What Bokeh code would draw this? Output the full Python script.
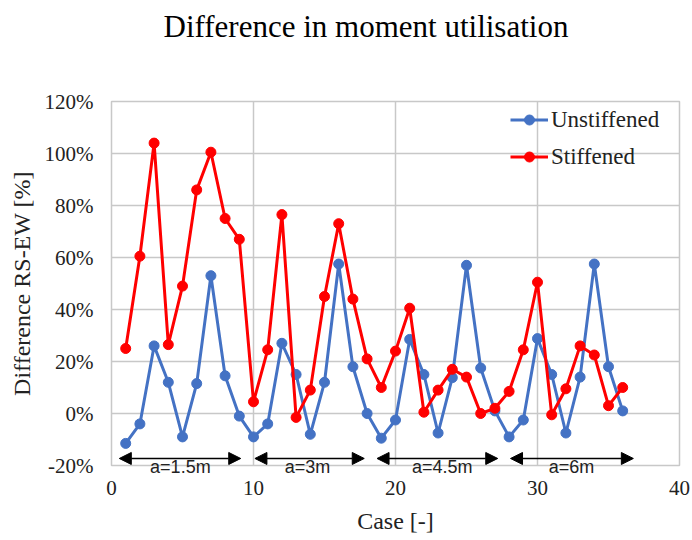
from bokeh.plotting import figure
from bokeh.models import (ColumnDataSource, FixedTicker, PrintfTickFormatter, Legend, LegendItem,
                          Arrow, NormalHead, LinearAxis, Range1d, Title)
from bokeh.embed import file_html
from bokeh.resources import INLINE

cases = list(range(1, 37))
unstiffened = [-11.5, -4, 26, 12, -9, 11.5, 53, 14.5, -1,
               -9, -4, 27, 15, -8, 12, 57.5, 18, 0,
               -9.5, -2.5, 28.5, 15, -7.5, 13.8, 57, 17.5, 1,
               -9, -2.5, 28.8, 15, -7.5, 14, 57.5, 18, 1]
stiffened = [25, 60.5, 104, 26.5, 49, 86, 100.5, 75, 67,
             4.5, 24.5, 76.5, -1.5, 9, 45, 73, 44, 21,
             10, 24, 40.5, 0.5, 9, 17, 14, 0, 2,
             8.5, 24.5, 50.5, -0.5, 9.5, 26, 22.5, 3, 10]

group_labels = ["a=1.5m", "a=3m", "a=4.5m", "a=6m"]
group_start = [0.55, 10.1, 18.7, 28.1]
group_end = [9.1, 17.8, 27.2, 36.75]
group_label_x = [4.85, 13.8, 23.3, 32.4]
group_arrow_y = [-17.3] * 4

y_ticks = [-20, 0, 20, 40, 60, 80, 100, 120]
x_ticks = [0, 10, 20, 30, 40]

SERIF = "Liberation Serif"
GRID = "#C8C8C8"
TXT = "#222222"

p = figure(width=692, height=540, output_backend="svg", toolbar_location=None,
           x_range=Range1d(0, 40), y_range=Range1d(-20, 120),
           min_border_left=111, min_border_right=13, min_border_top=101, min_border_bottom=75)

# spacer between the frame and the title
spacer = Title(text=" ", text_font_size="1px", standoff=49)
p.add_layout(spacer, "above")

p.title.text = "Difference in moment utilisation"
p.title.align = "left"
p.title.offset = 52
p.title.text_font = SERIF
p.title.text_font_size = "31px"
p.title.text_font_style = "normal"
p.title.text_color = "black"
p.title.standoff = 11

p.outline_line_color = GRID
p.outline_line_width = 1.5
p.background_fill_color = "white"
p.border_fill_color = "white"

num_axis = p.xaxis[0]
for ax in (num_axis, p.yaxis[0]):
    ax.axis_line_color = None
    ax.major_tick_line_color = None
    ax.minor_tick_line_color = None
    ax.major_label_text_font = SERIF
    ax.major_label_text_font_size = "21px"
    ax.major_label_text_color = TXT
    ax.axis_label_text_font = SERIF
    ax.axis_label_text_font_size = "24px"
    ax.axis_label_text_font_style = "normal"
    ax.axis_label_text_color = TXT
    ax.major_label_standoff = 12

num_axis.ticker = FixedTicker(ticks=x_ticks)
p.yaxis.ticker = FixedTicker(ticks=y_ticks)
p.yaxis.formatter = PrintfTickFormatter(format="%d%%")
num_axis.axis_label = "Case [-]"
p.yaxis.axis_label = "Difference RS-EW [%]"
num_axis.major_label_standoff = -5
num_axis.axis_label_standoff = 10
p.yaxis.axis_label_standoff = 7

# axis carrying the group names directly under the frame
group_axis = LinearAxis(ticker=FixedTicker(ticks=group_label_x),
                        major_label_overrides={x: t for x, t in zip(group_label_x, group_labels)},
                        axis_line_color=None, major_tick_line_color=None,
                        minor_tick_line_color=None, major_label_standoff=-15,
                        major_label_text_font="Liberation Sans",
                        major_label_text_font_size="18px", major_label_text_color=TXT)
p.add_layout(group_axis, "below")
p.below = [group_axis, num_axis]

p.xgrid.grid_line_color = GRID
p.ygrid.grid_line_color = GRID
p.xgrid.grid_line_width = 1.5
p.ygrid.grid_line_width = 1.5
p.xgrid.ticker = num_axis.ticker

BLUE = "#4472C4"
RED = "#FF0000"

src = ColumnDataSource(dict(x=cases, u=unstiffened, s=stiffened))
lu = p.line("x", "u", source=src, line_color=BLUE, line_width=3)
cu = p.scatter("x", "u", source=src, size=10, fill_color=BLUE, line_color=BLUE)
ls = p.line("x", "s", source=src, line_color=RED, line_width=3)
cs = p.scatter("x", "s", source=src, size=10, fill_color=RED, line_color=RED)

legend = Legend(items=[LegendItem(label="Unstiffened", renderers=[lu, cu]),
                       LegendItem(label="Stiffened", renderers=[ls, cs])],
                location="top_right", margin=0, padding=0, spacing=0,
                glyph_width=38, glyph_height=25, label_height=37, label_width=128,
                label_standoff=3, background_fill_alpha=0, border_line_color=None,
                label_text_font=SERIF, label_text_font_size="23px", label_text_color=TXT)
p.add_layout(legend)

asrc = ColumnDataSource(dict(x0=group_start, x1=group_end, y=group_arrow_y))
arrows = Arrow(x_start="x0", y_start="y", x_end="x1", y_end="y", source=asrc,
               line_color="black", line_width=1.5,
               start=NormalHead(size=12, fill_color="black", line_color="black"),
               end=NormalHead(size=12, fill_color="black", line_color="black"))
p.add_layout(arrows)

open("out.html", "w").write(file_html(p, INLINE))
